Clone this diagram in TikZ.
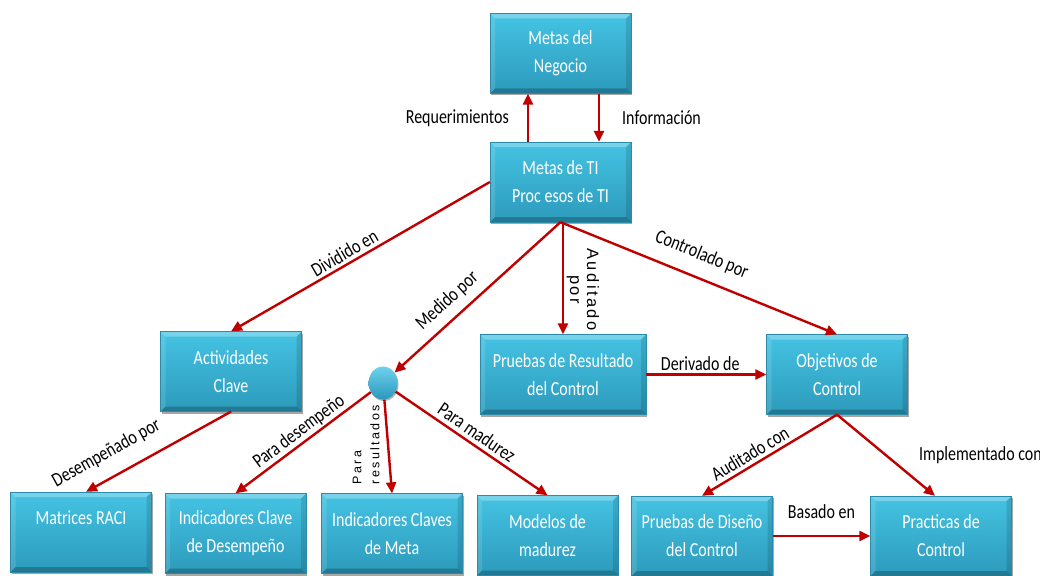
\documentclass[tikz,border=0pt]{standalone}
\usepackage{fontspec}
\setmainfont{Carlito}
\newfontfamily\narrowfont{Carlito}[FakeStretch=0.8]
\newfontfamily\trackedfont{Liberation Sans}[LetterSpace=15]
\newfontfamily\trackedsmallfont{Liberation Sans}[LetterSpace=19]
\usetikzlibrary{arrows.meta,shadows,shapes.geometric}

\definecolor{boxtop}{HTML}{45C3E3}
\definecolor{boxbot}{HTML}{2C9ABB}
\definecolor{boxedge}{HTML}{2A8CAA}
\definecolor{arrowred}{HTML}{C00000}
\definecolor{hubtop}{HTML}{6ED2EC}
\definecolor{hubbot}{HTML}{2A98BC}

\tikzset{
  box/.style={rectangle, minimum width=141pt, minimum height=80pt, inner sep=0pt,
    align=center, text=white, font=\narrowfont\fontsize{20}{28}\selectfont,
    top color=boxtop, bottom color=boxbot, draw=boxedge, line width=0.3pt,
    drop shadow={shadow xshift=1pt, shadow yshift=-2pt, opacity=0.35, fill=black},
    path picture={
      \fill[white, opacity=0.28] (path picture bounding box.north west) -- (path picture bounding box.north east)
        -- ([xshift=-5pt,yshift=-5pt]path picture bounding box.north east)
        -- ([xshift=5pt,yshift=-5pt]path picture bounding box.north west) -- cycle;
      \fill[white, opacity=0.12] (path picture bounding box.north west) -- ([xshift=5pt,yshift=-5pt]path picture bounding box.north west)
        -- ([xshift=5pt,yshift=5pt]path picture bounding box.south west)
        -- (path picture bounding box.south west) -- cycle;
      \fill[black, opacity=0.12] (path picture bounding box.north east) -- ([xshift=-5pt,yshift=-5pt]path picture bounding box.north east)
        -- ([xshift=-5pt,yshift=5pt]path picture bounding box.south east)
        -- (path picture bounding box.south east) -- cycle;
      \fill[black, opacity=0.22] (path picture bounding box.south west) -- ([xshift=5pt,yshift=5pt]path picture bounding box.south west)
        -- ([xshift=-5pt,yshift=5pt]path picture bounding box.south east)
        -- (path picture bounding box.south east) -- cycle;
    }},
  hubnode/.style={ellipse, minimum width=29pt, minimum height=33pt, inner sep=0pt,
    top color=hubtop, bottom color=hubbot,
    drop shadow={shadow xshift=1pt, shadow yshift=-1.5pt, opacity=0.3, fill=black}},
  arr/.style={draw=arrowred, line width=2.4pt, -{Triangle[length=11pt,width=10pt]}},
  lbl/.style={font=\narrowfont\fontsize{20}{22}\selectfont, text=black, inner sep=1pt},
  trk/.style={font=\trackedfont\fontsize{16.5}{17}\selectfont, text=black, inner sep=1pt},
  trksmall/.style={font=\trackedsmallfont\fontsize{12.5}{18}\selectfont, text=black, inner sep=1pt}
}

\begin{document}
\begin{tikzpicture}[x=1pt, y=-1pt]
\useasboundingbox (0,0) rectangle (1040,575);

% boxes
\node[box] (neg) at (560.5,53.5) {Metas del\\Negocio};
\node[box] (ti) at (560.5,182) {Metas de TI\\Proc esos de TI};
\node[box] (act) at (231,371.5) {Actividades\\Clave};
\node[box, minimum width=166pt] (prc) at (563,374.5) {Pruebas de Resultado\\del Control};
\node[box] (obj) at (837,374.5) {Objetivos de\\Control};
\node[hubnode] (hub) at (383,383) {};
\node[box] (raci) at (81,532) {Matrices RACI\\\phantom{M}};
\node[box] (icd) at (235.5,533.5) {Indicadores Clave\\de Desempeño};
\node[box] (icm) at (392,533.5) {Indicadores Claves\\de Meta};
\node[box] (mod) at (547.5,535.5) {Modelos de\\madurez};
\node[box] (pdc) at (702,536) {Pruebas de Diseño\\del Control};
\node[box] (prac) at (941,536) {Practicas de\\Control};

% connectors
\draw[arr] ([xshift=-32.5pt]ti.north) -- ([xshift=-32.5pt]neg.south)
  node[lbl, midway, left=17pt] {Requerimientos};
\draw[arr] ([xshift=38.5pt]neg.south) -- ([xshift=38.5pt]ti.north)
  node[lbl, midway, right=21pt] {Información};
\draw[arr] (ti.west) -- (act.north)
  node[lbl, sloped, above=2pt, pos=0.54] {Dividido en};
\draw[arr] (ti.south) -- (hub)
  node[lbl, sloped, above=7pt, pos=0.61] {Medido por};
\draw[arr] (prc.north |- ti.south) -- (prc.north)
  node[trk, pos=0.6, xshift=20pt, rotate=-90, align=center] {Auditado\\por};
\draw[arr] (ti.south) -- (obj.north)
  node[lbl, sloped, above=12pt, pos=0.48] {Controlado por};
\draw[arr] (prc.east) -- (obj.west)
  node[lbl, above=1.5pt, pos=0.45] {Derivado de};
\draw[arr] (act.south) -- ([xshift=5pt]raci.north)
  node[lbl, sloped, above=13pt, pos=0.78] {Desempeñado por};
\draw[arr] (hub) -- (icd.north)
  node[lbl, sloped, above=0.5pt, pos=0.48] {Para desempeño};
\draw[arr] (hub) -- (icm.north)
  node[trksmall, pos=0.48, xshift=-22pt, rotate=90, align=left] {Para\\resultados};
\draw[arr] (hub) -- (mod.north)
  node[lbl, sloped, above=3pt, pos=0.49] {Para madurez};
\draw[arr] (obj.south) -- (pdc.north)
  node[lbl, sloped, above=2.5pt, pos=0.6] {Auditado con};
\draw[arr] (obj.south) -- ([xshift=-6pt]prac.north)
  node[lbl, pos=0.5, anchor=west, xshift=31pt] {Implementado con};
\draw[arr] (pdc.east) -- (prac.west)
  node[lbl, above=15pt, pos=0.5] {Basado en};
\end{tikzpicture}
\end{document}
